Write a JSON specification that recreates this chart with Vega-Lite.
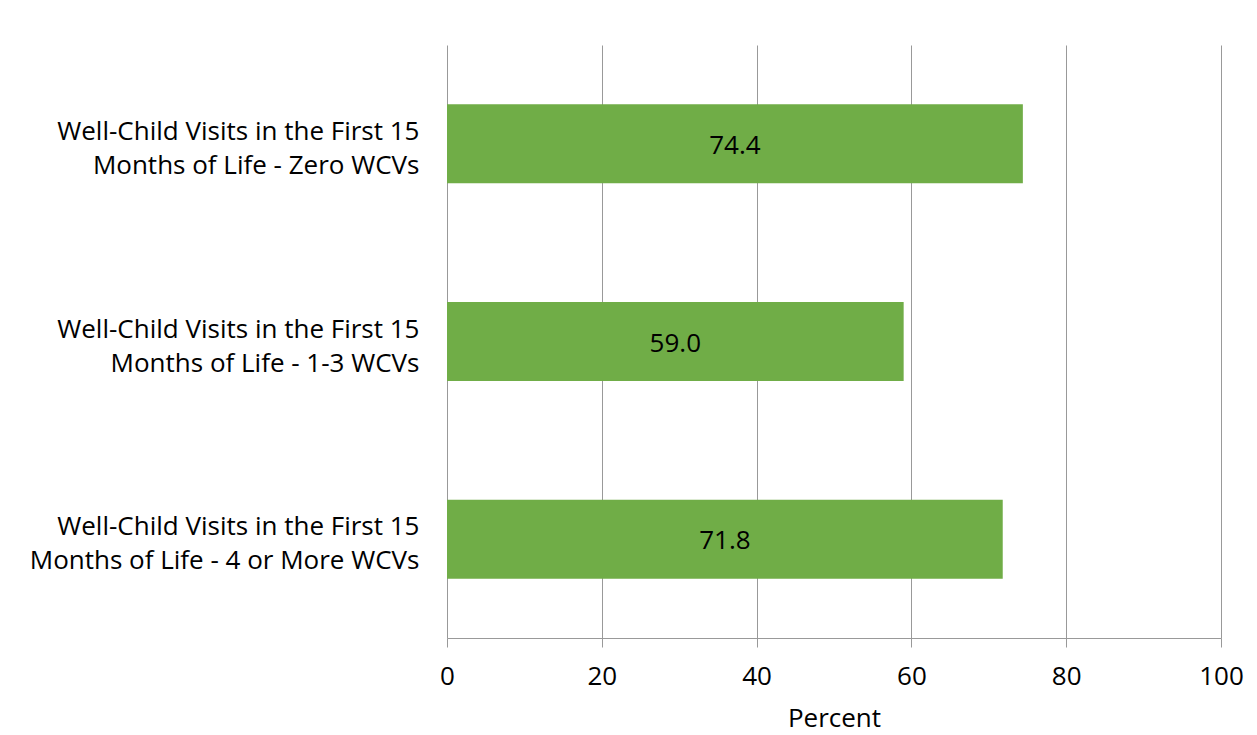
{
  "$schema": "https://vega.github.io/schema/vega-lite/v6.json",
  "width": 774,
  "height": 593,
  "autosize": "none",
  "padding": {"left": 447, "top": 45, "right": 36, "bottom": 97},
  "background": "white",
  "config": {"view": {"stroke": null}, "font": "Open Sans"},
  "data": {
    "values": [
      {"measure": "Well-Child Visits in the First 15|Months of Life - Zero WCVs", "order": 1, "percent": 74.4},
      {"measure": "Well-Child Visits in the First 15|Months of Life - 1-3 WCVs", "order": 2, "percent": 59.0},
      {"measure": "Well-Child Visits in the First 15|Months of Life - 4 or More WCVs", "order": 3, "percent": 71.8}
    ]
  },
  "encoding": {
    "y": {
      "field": "measure",
      "type": "nominal",
      "sort": {"field": "order"},
      "scale": {"paddingInner": 0.6, "paddingOuter": 0.3},
      "axis": {
        "title": null,
        "labelExpr": "split(datum.label, '|')",
        "labelFontSize": 26,
        "labelColor": "#000000",
        "labelLineHeight": 34,
        "labelPadding": 28,
        "labelOffset": -12,
        "labelLimit": 500,
        "ticks": false,
        "domain": false,
        "labelFont": "Open Sans"
      }
    }
  },
  "layer": [
    {
      "mark": {"type": "bar", "color": "#70AD47"},
      "encoding": {
        "x": {
          "field": "percent",
          "type": "quantitative",
          "scale": {"domain": [0, 100], "nice": false},
          "axis": {
            "title": "Percent",
            "titleFontSize": 26,
            "titleFontWeight": "normal",
            "titleColor": "#000000",
            "titlePadding": 16,
            "values": [0, 20, 40, 60, 80, 100],
            "labelFontSize": 26,
            "labelColor": "#000000",
            "labelPadding": 16,
            "tickSize": 9,
            "tickColor": "#999999",
            "domainColor": "#999999",
            "gridColor": "#999999",
            "grid": true,
            "labelFlush": false
          }
        }
      }
    },
    {
      "mark": {"type": "text", "fontSize": 26, "color": "#000000", "font": "Open Sans", "dy": 2},
      "encoding": {
        "x": {
          "field": "percent",
          "type": "quantitative",
          "scale": {"domain": [0, 200], "nice": false},
          "axis": null
        },
        "text": {"field": "percent", "type": "quantitative", "format": ".1f"}
      }
    }
  ],
  "resolve": {"scale": {"x": "independent"}, "axis": {"x": "independent"}}
}
